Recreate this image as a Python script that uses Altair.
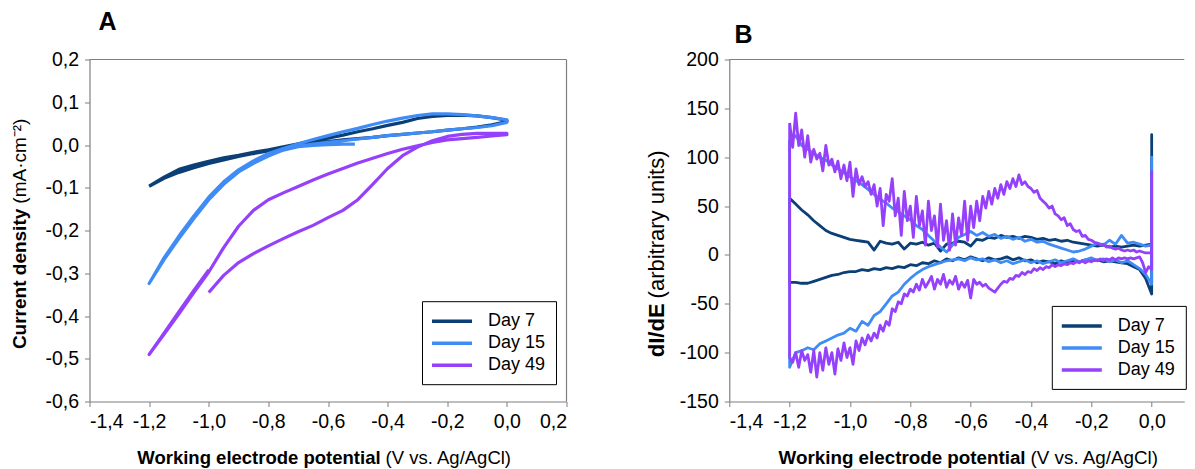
import altair as alt
import pandas as pd

SERIES = ["Day 7", "Day 15", "Day 49"]
COLORS = ["#0b3f76", "#3f8cf7", "#9541fb"]

# ---------------- Panel A: cyclic voltammograms (path order) ----------------
A7_E = [-1.20, -1.15, -1.10, -1.05, -1.00, -0.95, -0.90, -0.85, -0.80, -0.75, -0.70, -0.65, -0.60,
        -0.55, -0.50, -0.45, -0.40, -0.35, -0.30, -0.25, -0.20, -0.15, -0.10, -0.05, 0.00,
        0.00, -0.05, -0.10, -0.15, -0.20, -0.25, -0.30, -0.35, -0.40, -0.45, -0.50, -0.55, -0.60,
        -0.65, -0.70, -0.75, -0.80, -0.85, -0.90, -0.95, -1.00, -1.05, -1.10, -1.15, -1.20]
A7_J = [-0.096, -0.075, -0.057, -0.047, -0.038, -0.030, -0.024, -0.017, -0.011, -0.004, 0.003, 0.010, 0.016,
        0.023, 0.031, 0.038, 0.046, 0.053, 0.062, 0.067, 0.069, 0.070, 0.068, 0.064, 0.058,
        0.055, 0.047, 0.042, 0.038, 0.035, 0.031, 0.028, 0.025, 0.022, 0.018, 0.015, 0.012, 0.008,
        0.004, -0.001, -0.007, -0.014, -0.020, -0.027, -0.035, -0.043, -0.053, -0.064, -0.078, -0.097]

A15_E = [-0.51, -0.55, -0.60, -0.65, -0.70, -0.75, -0.80, -0.85, -0.90, -0.95, -1.00, -1.05, -1.10, -1.15, -1.20,
         -1.15, -1.10, -1.05, -1.00, -0.95, -0.90, -0.85, -0.80, -0.75, -0.70, -0.65, -0.60, -0.55, -0.50,
         -0.45, -0.40, -0.35, -0.30, -0.25, -0.20, -0.15, -0.10, -0.05, 0.00,
         0.00, -0.05, -0.10, -0.15, -0.20, -0.25, -0.30, -0.35, -0.40, -0.45, -0.50, -0.55, -0.60, -0.65,
         -0.70, -0.75]
A15_J = [0.002, 0.002, 0.001, -0.001, -0.004, -0.012, -0.026, -0.043, -0.063, -0.092, -0.128, -0.172, -0.219, -0.268, -0.324,
         -0.264, -0.213, -0.166, -0.122, -0.086, -0.058, -0.037, -0.020, -0.008, 0.003, 0.013, 0.022, 0.031, 0.039,
         0.048, 0.056, 0.063, 0.069, 0.073, 0.073, 0.071, 0.068, 0.064, 0.059,
         0.053, 0.045, 0.041, 0.038, 0.035, 0.031, 0.028, 0.025, 0.022, 0.018, 0.014, 0.010, 0.006, 0.002,
         -0.003, -0.010]

A49_E = [-1.00, -0.95, -0.90, -0.85, -0.80, -0.75, -0.70, -0.65, -0.60, -0.55, -0.50, -0.45, -0.40, -0.35,
         -0.30, -0.25, -0.20, -0.15, -0.10, -0.05, 0.00,
         0.00, -0.05, -0.10, -0.15, -0.20, -0.25, -0.30, -0.35, -0.40, -0.45, -0.50, -0.55, -0.60, -0.65,
         -0.70, -0.75, -0.80, -0.85, -0.90, -0.95, -1.00, -1.05, -1.10, -1.15, -1.20,
         -1.15, -1.10, -1.05, -1.00]
A49_J = [-0.345, -0.305, -0.275, -0.254, -0.236, -0.219, -0.203, -0.188, -0.170, -0.153, -0.128, -0.092, -0.055, -0.025,
         -0.005, 0.010, 0.020, 0.025, 0.027, 0.027, 0.027,
         0.024, 0.021, 0.018, 0.015, 0.012, 0.006, -0.002, -0.010, -0.020, -0.031, -0.042, -0.055, -0.068, -0.082,
         -0.097, -0.112, -0.128, -0.153, -0.190, -0.240, -0.297, -0.345, -0.395, -0.443, -0.490,
         -0.440, -0.390, -0.340, -0.292]

# ---------------- Panel B: dI/dE ----------------
EB = [-1.20, -1.18, -1.16, -1.14, -1.12, -1.10, -1.08, -1.06, -1.04, -1.02,
      -1.00, -0.98, -0.96, -0.94, -0.92, -0.90, -0.88, -0.86, -0.84, -0.82,
      -0.80, -0.78, -0.76, -0.74, -0.72, -0.70, -0.68, -0.66, -0.64, -0.62,
      -0.60, -0.58, -0.56, -0.54, -0.52, -0.50, -0.48, -0.46, -0.44, -0.42,
      -0.40, -0.38, -0.36, -0.34, -0.32, -0.30, -0.28, -0.26, -0.24, -0.22,
      -0.20, -0.18, -0.16, -0.14, -0.12, -0.10, -0.08, -0.06, -0.04, -0.02,
      0.00]
EF = [-1.20, -1.19, -1.18, -1.17, -1.16, -1.15, -1.14, -1.13, -1.12, -1.11,
      -1.10, -1.09, -1.08, -1.07, -1.06, -1.05, -1.04, -1.03, -1.02, -1.01,
      -1.00, -0.99, -0.98, -0.97, -0.96, -0.95, -0.94, -0.93, -0.92, -0.91,
      -0.90, -0.89, -0.88, -0.87, -0.86, -0.85, -0.84, -0.83, -0.82, -0.81,
      -0.80, -0.79, -0.78, -0.77, -0.76, -0.75, -0.74, -0.73, -0.72, -0.71,
      -0.70, -0.69, -0.68, -0.67, -0.66, -0.65, -0.64, -0.63, -0.62, -0.61,
      -0.60, -0.59, -0.58, -0.57, -0.56, -0.55, -0.54, -0.53, -0.52, -0.51,
      -0.50, -0.49, -0.48, -0.47, -0.46, -0.45, -0.44, -0.43, -0.42, -0.41,
      -0.40, -0.39, -0.38, -0.37, -0.36, -0.35, -0.34, -0.33, -0.32, -0.31,
      -0.30, -0.29, -0.28, -0.27, -0.26, -0.25, -0.24, -0.23, -0.22, -0.21,
      -0.20, -0.19, -0.18, -0.17, -0.16, -0.15, -0.14, -0.13, -0.12, -0.11,
      -0.10, -0.09, -0.08, -0.07, -0.06, -0.05, -0.04, -0.03, -0.02, -0.01,
      0.00]

B7_UP = [58, 52, 46, 41, 35, 30, 25, 22, 20, 18,
         16, 15, 14, 13, 5, 14, 12, 11, 13, 6,
         12, 11, 13, 10, 12, 4, 11, 12, 14, 13,
         9, 16, 15, 18, 17, 20, 18, 19, 17, 19,
         18, 16, 17, 15, 16, 14, 15, 13, 12, 11,
         10, 9, 10, 8, 9, 8, 9, 10, 9, 10,
         11]
B7_DN = [-28, -28, -29, -29, -27, -25, -23, -21, -20, -18,
         -17, -17, -15, -16, -14, -15, -13, -14, -12, -13,
         -10, -11, -8, -9, -6, -8, -4, -6, -3, -5,
         -2, -4, -6, -3, -5, -4, -2, -5, -3, -6,
         -5, -8, -6, -7, -9, -6, -8, -6, -7, -5,
         -6, -5, -7, -6, -7, -8, -9, -12, -15, -24,
         -40]
B7_SPIKE = 123

B15_UP = [118, 122, 112, 108, 104, 100, 97, 92, 88, 84,
          80, 76, 72, 67, 62, 57, 53, 48, 44, 40,
          36, 30, 26, 20, 14, 8, 3, 10, 18, 21,
          24, 20, 23, 19, 21, 17, 19, 16, 18, 14,
          16, 13, 14, 11, 9, 7, 5, 3, 4, 6,
          9, 12, 10, 15, 11, 20, 12, 13, 11, 9,
          10]
B15_DN = [-115, -100, -98, -95, -97, -91, -88, -85, -82, -80,
          -75, -78, -68, -72, -62, -58, -50, -42, -38, -30,
          -24, -19, -15, -12, -10, -8, -6, -5, -4, -6,
          -3, -5, -4, -7, -5, -8, -6, -9, -7, -5,
          -8, -6, -9, -7, -5, -8, -6, -4, -7, -5,
          -3, -6, -4, -7, -5, -8, -6, -10, -14, -20,
          -30]
B15_SPIKE = 100

B49_UP = [135, 110, 145, 112, 128, 100, 122, 95, 108, 98,
          104, 86, 112, 92, 98, 85, 96, 78, 92, 76,
          95, 60, 88, 72, 80, 70, 75, 62, 72, 50,
          68, 30, 62, 55, 78, 40, 58, 20, 65, 35,
          50, 18, 60, 30, 45, 10, 55, 25, 40, 8,
          52, 15, 35, 5, 42, 10, 38, 20, 55, 15,
          50, 28, 55, 35, 60, 48, 65, 52, 68, 58,
          72, 62, 75, 68, 78, 70, 82, 72, 75, 70,
          68, 64, 66, 58, 55, 52, 48, 50, 42, 40,
          36, 38, 30, 32, 26, 24, 25, 19, 20, 16,
          15, 13, 12, 10, 11, 8, 9, 7, 6, 7,
          5, 4, 5, 4, 5, 3, 4, 3, 2, 2,
          2]
B49_DN = [-105, -110, -100, -115, -98, -108, -102, -120, -98, -125,
          -100, -118, -95, -112, -100, -122, -96, -108, -90, -105,
          -95, -112, -88, -98, -85, -92, -82, -88, -80, -85,
          -72, -78, -68, -72, -55, -58, -48, -50, -40, -42,
          -35, -38, -30, -36, -25, -33, -28, -22, -35, -25,
          -30, -20, -33, -26, -30, -22, -35, -28, -33, -26,
          -44, -25, -30, -28, -32, -30, -34, -36, -38, -34,
          -30, -27, -28, -24, -25, -21, -22, -18, -20, -17,
          -18, -14, -16, -13, -15, -12, -13, -10, -12, -10,
          -11, -9, -10, -8, -9, -7, -8, -6, -8, -6,
          -7, -5, -6, -4, -6, -4, -5, -3, -5, -3,
          -4, -3, -4, -3, -4, -3, -2, -8, -18, -12,
          -15]
B49_SPIKE = 85

XA_TICKS = [-1.4, -1.2, -1.0, -0.8, -0.6, -0.4, -0.2, 0.0, 0.2]
YA_TICKS = [-0.6, -0.5, -0.4, -0.3, -0.2, -0.1, 0.0, 0.1, 0.2]
XB_TICKS = [-1.4, -1.2, -1.0, -0.8, -0.6, -0.4, -0.2, 0.0]
YB_TICKS = [-150, -100, -50, 0, 50, 100, 150, 200]

X_TITLE = ["Working electrode potential", "(V vs. Ag/AgCl)"]
YA_TITLE = ["Current density", "(mA\u00b7cm\u207b\u00b2)"]
YB_TITLE = ["dI/dE", "(arbitrary units)"]
PANEL_LABELS = ["A", "B"]

FONT = "Liberation Sans"
WA, HA = 477, 342
WB, HB = 455, 342
XB_MAX = -1.4 + WB / 301.7

# ---------------- data tables ----------------
rows = []
for s, E, J in zip(SERIES, [A7_E, A15_E, A49_E], [A7_J, A15_J, A49_J]):
    for i, (e, j) in enumerate(zip(E, J)):
        rows.append({"series": s, "E": e, "J": j, "order": i})
dfA = pd.DataFrame(rows)

rows = []
for s, E, up, dn, spike in zip(SERIES, [EB, EB, EF], [B7_UP, B15_UP, B49_UP],
                               [B7_DN, B15_DN, B49_DN], [B7_SPIKE, B15_SPIKE, B49_SPIKE]):
    path = list(zip(E, up)) + [(E[-1], spike)] + list(zip(E[::-1], dn[::-1])) + [(E[0], up[0])]
    for i, (e, v) in enumerate(path):
        rows.append({"series": s, "E": e, "D": v, "order": i})
dfB = pd.DataFrame(rows)

LBL1 = "replace(replace(format(datum.value, '.1f'), '.', ','), '\u2212', '-')"
LBL0 = "replace(format(datum.value, 'd'), '\u2212', '-')"

AX = dict(grid=False, domainColor="#7f7f7f", tickColor="#7f7f7f", tickSize=5, domainWidth=1.2,
          labelFontSize=19.5, labelColor="black", labelFont=FONT, title=None)


def legend(x, y):
    return alt.Legend(title=None, orient="none", legendX=x, legendY=y, strokeColor="black",
                      fillColor="white", padding=10, symbolType="M-2.5,0H2.5", symbolSize=256,
                      symbolStrokeWidth=3.5, symbolOffset=10, labelFontSize=18, labelFont=FONT,
                      labelColor="black", rowPadding=3, labelOffset=26)


def txt(s, x, y, size=18, bold=False, align="center", angle=0):
    kw = dict(font=FONT, fontSize=size, fontWeight="bold" if bold else "normal",
              align=align, baseline="middle", color="black")
    if angle:
        kw["angle"] = angle
    return alt.Chart(pd.DataFrame({"t": [s]})).mark_text(**kw).encode(
        text="t:N", x=alt.value(x), y=alt.value(y))


def rule(x, x2, y, y2, color="#7f7f7f"):
    return alt.Chart(pd.DataFrame({"r": [0]})).mark_rule(color=color, strokeWidth=1.2).encode(
        x=alt.value(x), x2=alt.value(x2), y=alt.value(y), y2=alt.value(y2))


colA = alt.Color("series:N", scale=alt.Scale(domain=SERIES, range=COLORS), legend=legend(332.5, 241.7))
colB = alt.Color("series:N", scale=alt.Scale(domain=SERIES, range=COLORS), legend=legend(322.5, 246.4))

lineA = alt.Chart(dfA).mark_line(strokeWidth=3.2, strokeJoin="round").encode(
    x=alt.X("E:Q", scale=alt.Scale(domain=[-1.4, 0.2], nice=False, zero=False),
            axis=alt.Axis(values=XA_TICKS, labelExpr=LBL1, labelPadding=6, **AX)),
    y=alt.Y("J:Q", scale=alt.Scale(domain=[-0.6, 0.2], nice=False, zero=False),
            axis=alt.Axis(values=YA_TICKS, labelExpr=LBL1, labelPadding=6, **AX)),
    color=colA,
    order=alt.Order("order:Q"),
)

panelA = alt.layer(
    lineA,
    rule(0, WA, 0, 0),
    rule(WA, WA, 0, HA),
    txt(PANEL_LABELS[0], 18, -37.3, size=25, bold=True),
    txt(X_TITLE[0], 291.1, 398.7, size=18.5, bold=True, align="right"),
    txt(X_TITLE[1], 296.1, 398.7, size=18.5, align="left"),
    txt(YA_TITLE[0], -69.5, 149.2, size=19, bold=True, align="right", angle=270),
    txt(YA_TITLE[1], -69.5, 144.2, size=19, align="left", angle=270),
).properties(width=WA, height=HA)

lineB = alt.Chart(dfB).mark_line(strokeWidth=2.8, strokeJoin="round").encode(
    x=alt.X("E:Q", scale=alt.Scale(domain=[-1.4, XB_MAX], nice=False, zero=False),
            axis=alt.Axis(values=XB_TICKS, labelExpr=LBL1, labelPadding=6, **AX)),
    y=alt.Y("D:Q", scale=alt.Scale(domain=[-150, 200], nice=False, zero=False),
            axis=alt.Axis(values=YB_TICKS, labelExpr=LBL0, labelPadding=6, **AX)),
    color=colB,
    order=alt.Order("order:Q"),
)

panelB = alt.layer(
    lineB,
    rule(0, WB, 0, 0),
    txt(PANEL_LABELS[1], 14.2, -24.3, size=25, bold=True),
    txt(X_TITLE[0], 296.3, 398.7, size=18.8, bold=True, align="right"),
    txt(X_TITLE[1], 301.3, 398.7, size=18.8, align="left"),
    txt(YB_TITLE[0], -72, 243.9, size=22, bold=True, align="right", angle=270),
    txt(YB_TITLE[1], -72, 238.9, size=22, align="left", angle=270),
).properties(width=WB, height=HB)

chart = alt.hconcat(panelA, panelB, spacing=162.8, bounds="flush").resolve_scale(
    x="independent", y="independent", color="independent"
).resolve_legend(color="independent").configure_view(stroke=None).properties(
    padding={"left": 2.5, "top": 1.5, "right": 0, "bottom": 0}
)

chart.save("out.html", embed_options={"renderer": "svg", "actions": False})
